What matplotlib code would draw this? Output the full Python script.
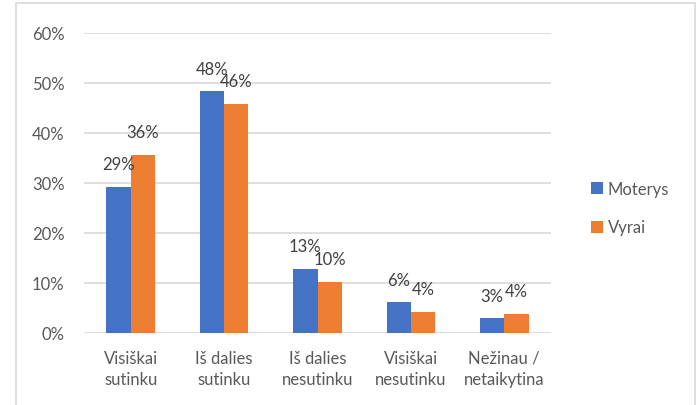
import matplotlib.pyplot as plt
import numpy as np
from matplotlib.patches import Rectangle

# duomenys
kategorijos = ['Visiškai\nsutinku', 'Iš dalies\nsutinku', 'Iš dalies\nnesutinku',
               'Visiškai\nnesutinku', 'Nežinau /\nnetaikytina']
moterys = [0.293, 0.484, 0.129, 0.062, 0.030]
vyrai = [0.357, 0.459, 0.103, 0.043, 0.039]
moterys_lbl = ['29%', '48%', '13%', '6%', '3%']
vyrai_lbl = ['36%', '46%', '10%', '4%', '4%']

plt.rcParams['font.family'] = ['Lato', 'DejaVu Sans']
pilka = '#595959'

fig = plt.figure(figsize=(6.97, 4.06), dpi=100)
ax = fig.add_axes([84/697, 1-334/406, (551-84)/697, 300/406])

x = np.arange(len(kategorijos))
w = 0.26
b1 = ax.bar(x - w/2, moterys, w, color='#4472C4', label='Moterys', zorder=3)
b2 = ax.bar(x + w/2, vyrai, w, color='#ED7D31', label='Vyrai', zorder=3)

# reiksmes virs stulpeliu
for bars, lbls in [(b1, moterys_lbl), (b2, vyrai_lbl)]:
    for r, t in zip(bars, lbls):
        ax.annotate(t, (r.get_x() + r.get_width()/2, r.get_height()),
                    xytext=(0, 16), textcoords='offset points',
                    ha='center', va='center', fontsize=12, color='#404040')

ax.set_xlim(-0.5, len(kategorijos) - 0.5)
ax.set_ylim(0, 0.6)
ax.set_yticks(np.arange(0, 0.61, 0.1))
ax.set_yticklabels([f'{int(round(v*100))}%' for v in np.arange(0, 0.61, 0.1)])
ax.set_xticks(x)
ax.set_xticklabels(kategorijos, linespacing=1.4)
ax.tick_params(length=0, colors=pilka, labelsize=12)
ax.tick_params(axis='y', pad=14)
ax.tick_params(axis='x', pad=12)
ax.grid(axis='y', color='#D9D9D9', lw=1.2, zorder=0)
for s in ax.spines.values():
    s.set_visible(False)

leg = ax.legend(loc='upper left', bbox_to_anchor=(576/697, 1-167/406),
                bbox_transform=fig.transFigure, frameon=False,
                handlelength=0.7, handleheight=0.7, handletextpad=0.3,
                labelspacing=1.35, fontsize=12)
for t in leg.get_texts():
    t.set_color(pilka)

# remelis aplink diagrama
fig.patches.append(Rectangle((16/697, -0.1), (695-16)/697, 1.1 - 4/406,
                             transform=fig.transFigure, fill=False,
                             edgecolor='#D9D9D9', lw=1.2))

fig.savefig('out.png', dpi=100)
